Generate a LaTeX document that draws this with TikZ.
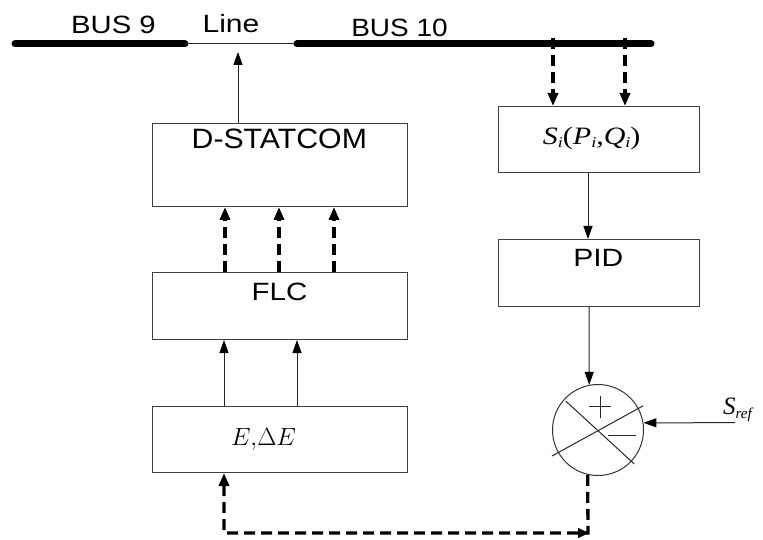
\documentclass[tikz,border=0pt]{standalone}
\usepackage{fontspec}
\setmainfont{Liberation Sans}
\newfontfamily\tnr{Liberation Serif}
\usepackage{graphicx}
\usetikzlibrary{arrows.meta}
\begin{document}
\begin{tikzpicture}[x=1pt,y=-1pt,
  box/.style={draw=black!75, line width=1pt, inner sep=0pt, anchor=north west},
  bus/.style={line width=7pt, line cap=round},
  thinln/.style={draw=black!85, line width=1pt},
  thinarrow/.style={draw=black!85, line width=1pt, -{Triangle[length=13pt,width=9pt,color=black]}},
  dasharrow/.style={line width=3.3pt, dash pattern=on 11pt off 6pt, -{Triangle[length=13pt,width=10pt]}},
  sanslab/.style={anchor=base, inner sep=0pt, font=\fontsize{25}{30}\selectfont},
]
\useasboundingbox (0,0) rectangle (763,540);

% bus bars
\coordinate (b9l) at (15,44);
\coordinate (b9r) at (185,44);
\coordinate (b10l) at (297,44);
\coordinate (b10r) at (651,44);
\draw[bus] (b9l) -- (b9r);
\draw[thinln] (b9r) -- (b10l);
\draw[bus] (b10l) -- (b10r);

\node[sanslab] (tb9) at (113.5,34) {\scalebox{1.17}[1]{BUS 9}};
\node[sanslab] (tline) at (231,33) {\scalebox{1.2}[1]{Line}};
\node[sanslab] (tb10) at (399.5,37) {\scalebox{1.12}[1]{BUS 10}};

% boxes
\node[box, minimum width=255pt, minimum height=83pt] (ds) at (152,123) {};
\node[box, minimum width=255pt, minimum height=67pt] (flc) at (152,272) {};
\node[box, minimum width=255pt, minimum height=66pt] (ebox) at (152,406) {};
\node[box, minimum width=201pt, minimum height=66pt] (sbox) at (498,106) {};
\node[box, minimum width=201pt, minimum height=67pt] (pid) at (498,239) {};
\node[draw=black!80, line width=1pt, circle, minimum size=91pt, inner sep=0pt] (sum) at (598,430) {};

% box texts
\node[anchor=base, inner sep=0pt, font=\fontsize{28}{32}\selectfont] (tds) at (279.3,149) {\scalebox{1.08}[1]{D-STATCOM}};
\node[sanslab] (tflc) at (279.5,300.5) {\scalebox{1.18}[1]{FLC}};
\node[sanslab] (tpid) at (598.3,266.5) {\scalebox{1.2}[1]{PID}};
\node[anchor=base, inner sep=0pt, font=\fontsize{24}{28}\selectfont] (te) at (263.5,445) {$E,\!\Delta E$};
\node[anchor=base, inner sep=0pt, font=\tnr\fontsize{25}{30}\selectfont] (ts) at (591.7,145)
  {\scalebox{1.2}[1]{\textit{S}\raisebox{-3pt}{\fontsize{15}{18}\selectfont\textit{i}}(\textit{P}\raisebox{-3pt}{\fontsize{15}{18}\selectfont\textit{i}},\textit{Q}\raisebox{-3pt}{\fontsize{15}{18}\selectfont\textit{i}})}};

% summing junction symbols
\draw[thinln] (565.7,401) -- (634.3,464);
\draw[thinln] (552,456) -- (643.3,405.7);
\draw[thinln] (589,406.7) -- (611,406.7);
\draw[thinln] (600,395.7) -- (600,417.7);
\draw[thinln] (607.7,435.7) -- (635.7,435.7);

% S_ref
\coordinate (sr) at (735,422.7);
\node[anchor=base west, inner sep=0pt, font=\tnr\fontsize{25}{30}\selectfont] (tsr) at (723,414)
  {\textit{S}\raisebox{-4pt}{\fontsize{15}{18}\selectfont\textit{ref}}};
\draw[thinarrow] (sr) -- (sum.9.2);

% line arrow
\coordinate (lt) at (238,52);
\draw[thinarrow] ([xshift=86pt]ds.north west) -- (lt);

% FLC -> D-STATCOM
\foreach \dx in {73,127,182}
  \draw[dasharrow] ([xshift=\dx pt]flc.north west) -- ([xshift=\dx pt]ds.south west);

% E -> FLC
\foreach \dx in {72,145}
  \draw[thinarrow] ([xshift=\dx pt]ebox.north west) -- ([xshift=\dx pt]flc.south west);

% bus -> S box
\coordinate (t1) at (553,38);
\coordinate (t2) at (625,38);
\draw[dasharrow] (t1) -- (sbox.north west -| t1);
\draw[dasharrow] (t2) -- (sbox.north west -| t2);

% S -> PID -> sum
\draw[thinarrow] ([xshift=90pt]sbox.south west) -- ([xshift=90pt]pid.north west);
\draw[thinarrow] ([xshift=91pt]pid.south west) -- (sum.101.4);

% feedback dashed
\coordinate (bl) at (224,533);
\coordinate (br) at (588,533);
\draw[dasharrow] (sum.257.3) -- (br) -- (bl) -- (ebox.south west -| bl);
\draw[line width=1pt, -{Triangle[length=11pt,width=10pt]}] (576,533) -- (589,533);
\end{tikzpicture}
\end{document}
